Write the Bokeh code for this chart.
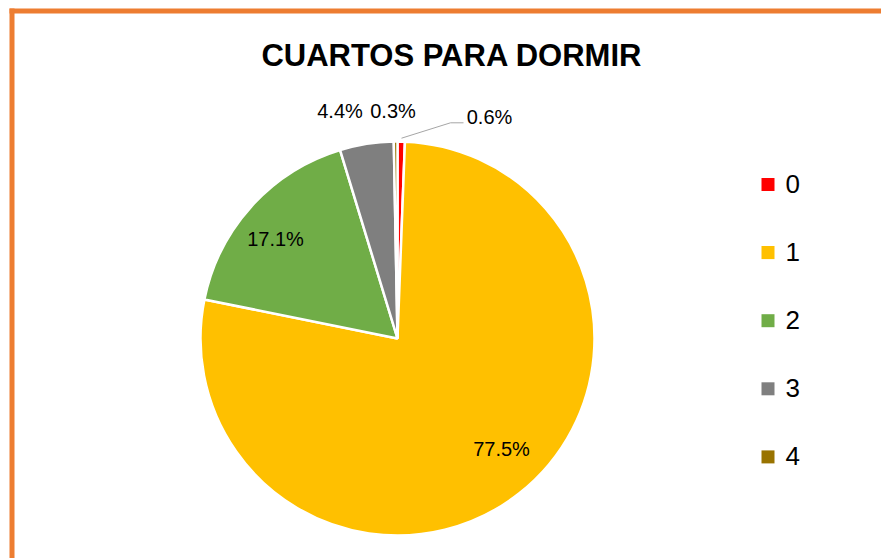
import math
from bokeh.plotting import figure
from bokeh.models import Range1d, ColumnDataSource, BoxAnnotation
from bokeh.core.properties import value
from bokeh.embed import file_html
from bokeh.resources import INLINE

# ---- data ----
title = "CUARTOS PARA DORMIR"
categories = ["0", "1", "2", "3", "4"]
percentages = [0.6, 77.5, 17.1, 4.4, 0.3]
colors = ["#FF0000", "#FFC000", "#70AD47", "#7F7F7F", "#997300"]

# ---- layout (pixel space of the figure, y up) ----
W, H = 881, 558
cx, cy, R = 397, 220, 197
# label anchor positions (x center, baseline)
label_pos = [(489, 442), (501, 109.5), (275, 319.5), (339.5, 447.5), (392.5, 447.5)]
legend_x, legend_top, legend_step = 767.5, 374, 68.1

p = figure(width=W, height=H, output_backend="svg", toolbar_location=None,
           x_range=Range1d(0, W), y_range=Range1d(0, H),
           x_axis_location=None, y_axis_location=None,
           min_border=0, min_border_left=0, min_border_right=0,
           min_border_top=0, min_border_bottom=0)
p.outline_line_color = None
p.grid.visible = False
p.background_fill_color = "white"
p.border_fill_color = "white"

# orange frame (top and left edges visible)
p.add_layout(BoxAnnotation(left=9, right=W + 5, bottom=H - 13, top=H - 8,
                           fill_color="#ED7D31", fill_alpha=1, line_color=None))
p.add_layout(BoxAnnotation(left=9, right=14, bottom=-5, top=H - 8,
                           fill_color="#ED7D31", fill_alpha=1, line_color=None))

# pie wedges (start at 12 o'clock, clockwise)
total = sum(percentages)
starts, ends = [], []
cum = 0.0
for v in percentages:
    a0 = math.pi / 2 - 2 * math.pi * cum / total
    cum += v
    a1 = math.pi / 2 - 2 * math.pi * cum / total
    starts.append(a1)
    ends.append(a0)
src = ColumnDataSource(dict(cat=categories, val=percentages, color=colors,
                            start=starts, end=ends,
                            x=[cx] * len(categories), y=[cy] * len(categories)))
p.wedge(x="x", y="y", radius=R, start_angle="start", end_angle="end",
        fill_color="color", line_color="white", line_width=2.5, source=src)

# leader line for the 0.6% label
p.line([401, 450, 463], [420.3, 435.7, 435.7], line_color="#A6A6A6", line_width=1)

# data labels
p.text(x=[lp[0] for lp in label_pos], y=[lp[1] for lp in label_pos],
       text=[f"{v:.1f}%" for v in percentages],
       text_font=value("Liberation Sans"), text_font_size="20px",
       text_align="center", text_baseline="alphabetic", text_color="black")

# title
p.text(x=[451.5], y=[503.5], text=[title], text_font=value("Liberation Sans"),
       text_font_size="31px", text_font_style="bold", text_align="center",
       text_baseline="alphabetic", text_color="black")

# legend
ly = [legend_top - i * legend_step for i in range(len(categories))]
p.scatter(x=[legend_x] * len(categories), y=ly, marker="square", size=13,
          fill_color=colors, line_color=None)
p.text(x=[legend_x + 17.5] * len(categories), y=[v + 0.5 for v in ly], text=categories,
       text_font=value("Liberation Sans"), text_font_size="26px",
       text_align="left", text_baseline="alphabetic", text_color="black")

open("out.html", "w").write(file_html(p, INLINE))
